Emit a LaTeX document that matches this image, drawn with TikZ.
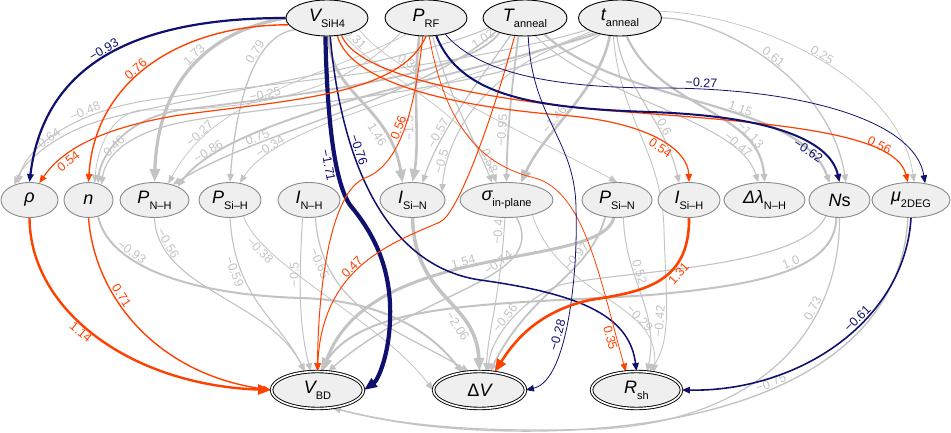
\documentclass[tikz,border=0pt]{standalone}
\usepackage{fontspec}
\setmainfont{Liberation Sans}
\usetikzlibrary{shapes.geometric,arrows.meta}
\definecolor{navyc}{HTML}{10106E}
\definecolor{orc}{HTML}{FF4100}
\definecolor{grc}{HTML}{C3C3C3}
\definecolor{nfill}{HTML}{EFEFEF}
\definecolor{nbord}{HTML}{8A8A8A}
\pgfdeclarelayer{bg}
\pgfsetlayers{bg,main}
\newcommand\mysub[1]{\raisebox{-0.32em}{\fontsize{11}{11}\selectfont #1}}
\newcommand\nodefont{\fontsize{18}{18}\selectfont}
\newcommand\labfont{\fontsize{12.5}{13}\selectfont}
\tikzset{
 topn/.style={ellipse, draw=black, line width=0.9pt, fill=nfill, minimum width=#1, minimum height=36pt, inner sep=0pt, font=\nodefont},
 midn/.style={ellipse, draw=nbord, line width=0.9pt, fill=nfill, minimum width=#1, minimum height=35pt, inner sep=0pt, font=\nodefont},
 botn/.style={ellipse, draw=black, double=white, double distance=1.6pt, line width=0.9pt, fill=nfill, minimum width=#1, minimum height=37pt, inner sep=0pt, font=\nodefont},
 edg/.style={line width=#1, -{Triangle[length=8pt,width=6.5pt]}},
 big/.style={-{Triangle[length=13pt,width=10pt]}},
 po/.style={color=orc},
 ng/.style={color=navyc},
 gr/.style={color=grc},
 lab/.style={sloped, above, font=\labfont, inner sep=1.2pt}
}
\begin{document}
\begin{tikzpicture}[x=1pt,y=-1pt]
\useasboundingbox (0,0) rectangle (951,433);
% top row
\node[topn=82pt] (V) at (327,18) {{\itshape V}\mysub{SiH4}};
\node[topn=82pt] (P) at (426,18) {{\itshape P}\mysub{RF}};
\node[topn=84pt] (T) at (525,18) {{\itshape T}\mysub{anneal}};
\node[topn=83pt] (t) at (620,18) {{\itshape t}\mysub{anneal}};
% middle row
\node[midn=57pt] (rho) at (29.5,200) {{\itshape ρ}};
\node[midn=49pt] (n) at (88.5,200) {{\itshape n}};
\node[midn=69pt] (PNH) at (154.5,200) {{\itshape P}\mysub{N–H}};
\node[midn=62pt] (PSiH) at (230,200) {{\itshape P}\mysub{Si–H}};
\node[midn=62pt] (INH) at (309,200) {{\itshape I}\mysub{N–H}};
\node[midn=65pt] (ISiN) at (412.5,200) {{\itshape I}\mysub{Si–N}};
\node[midn=93pt] (sig) at (506.5,200) {{\itshape σ}\mysub{in-plane}};
\node[midn=70pt] (PSiN) at (617,200) {{\itshape P}\mysub{Si–N}};
\node[midn=62pt] (ISiH) at (689,200) {{\itshape I}\mysub{Si–H}};
\node[midn=81pt] (dlam) at (764.5,200) {{\itshape Δλ}\mysub{N–H}};
\node[midn=61pt] (Ns) at (839.5,200) {{\itshape N}s};
\node[midn=78pt] (mu) at (911,200) {{\itshape μ}\mysub{2DEG}};
% bottom row
\node[botn=92pt] (VBD) at (317.5,390) {{\itshape V}\mysub{BD}};
\node[botn=92pt] (DV) at (479.5,390) {Δ{\itshape V}};
\node[botn=90pt] (Rsh) at (636.5,390) {{\itshape R}\mysub{sh}};

\begin{pgfonlayer}{bg}
% ---------- gray: top -> middle
\draw[gr, edg=3.2pt, big] (V.west) .. controls (215,30) and (158,75) .. (PNH.north) node[lab,pos=0.47]{1.73};
\draw[gr, edg=1.3pt] (V.200) .. controls (255,35) and (236,100) .. (PSiH.north) node[lab,pos=0.35]{0.79};
\draw[gr, edg=2.8pt, big] (V.-85) .. controls (330,95) and (390,105) .. (ISiN.120) node[lab,below,pos=0.72]{1.46};
\draw[gr, edg=0.7pt] (V.-45) .. controls (370,70) and (470,110) .. (sig.120) node[lab,pos=0.08]{0.31};
\draw[gr, edg=0.7pt] (V.-20) .. controls (395,75) and (540,140) .. (PSiN.north) node[lab,pos=0.26]{0.36};
\draw[gr, edg=2.6pt, big] (P.-110) .. controls (412,90) and (420,140) .. (ISiN.north) node[lab,pos=0.6]{−1.5};
\draw[gr, edg=1.2pt] (T.-130) .. controls (480,80) and (440,130) .. (ISiN.60) node[lab,pos=0.7]{−0.57};
\draw[gr, edg=1pt] (t.-150) .. controls (470,70) and (445,150) .. (ISiN.15) node[lab,pos=0.8]{−0.5};
\draw[gr, edg=1.1pt] (P.-70) .. controls (450,100) and (475,140) .. (sig.130) node[lab,pos=0.85]{0.58};
\draw[gr, edg=1.8pt] (T.-110) .. controls (510,100) and (507,140) .. (sig.north) node[lab,pos=0.6]{−0.95};
\draw[gr, edg=2.6pt, big] (t.-120) .. controls (600,90) and (545,130) .. (sig.50) node[lab,pos=0.6]{−1.46};
\draw[gr, edg=1.8pt] (T.-150) .. controls (470,75) and (300,95) .. (180,110) node[lab,pos=0.1]{1.02} .. controls (120,120) and (100,160) .. (n.60);
\draw[gr, edg=1.2pt] (t.-140) .. controls (500,95) and (250,105) .. (170,125) .. controls (120,138) and (105,160) .. (n.50) node[lab,pos=0.5]{0.46};
\draw[gr, edg=0.8pt] (P.-150) .. controls (330,110) and (200,110) .. (140,110) node[lab,pos=0.5]{−0.25} .. controls (110,115) and (97,150) .. (n.70);
\draw[gr, edg=1pt] (t.-160) .. controls (450,70) and (250,85) .. (150,100) .. controls (70,112) and (25,150) .. (rho.125) node[lab,pos=0.3]{−0.48};
\draw[gr, edg=1.1pt] (T.-165) .. controls (420,60) and (200,95) .. (110,118) .. controls (60,130) and (25,160) .. (rho.135) node[lab,pos=0.45]{0.64};
\draw[gr, edg=0.7pt] (P.-140) .. controls (330,75) and (215,95) .. (PNH.50) node[lab,pos=0.8]{−0.27};
\draw[gr, edg=1.4pt] (T.-155) .. controls (420,100) and (260,130) .. (PNH.40) node[lab,pos=0.72]{0.75};
\draw[gr, edg=1.9pt] (t.-145) .. controls (450,80) and (230,115) .. (PNH.30) node[lab,pos=0.85]{−0.86};
\draw[gr, edg=0.8pt] (t.-155) .. controls (450,90) and (280,120) .. (PSiH.60) node[lab,pos=0.82]{−0.34};
\draw[gr, edg=2.2pt] (t.-70) .. controls (660,110) and (760,110) .. (dlam.north) node[lab,pos=0.75]{−1.13};
\draw[gr, edg=1pt] (T.-60) .. controls (600,100) and (740,120) .. (dlam.110) node[lab,pos=0.8]{−0.47};
\draw[gr, edg=1.1pt] (t.-100) .. controls (625,90) and (665,120) .. (ISiH.120) node[lab,pos=0.65]{−0.6};
\draw[gr, edg=2.2pt] (T.-40) .. controls (620,105) and (800,100) .. (Ns.120) node[lab,pos=0.6]{1.15};
\draw[gr, edg=1.3pt] (t.east) .. controls (720,18) and (830,80) .. (Ns.70) node[lab,pos=0.5]{0.61};
\draw[gr, edg=0.7pt] (t.10) .. controls (760,15) and (900,80) .. (mu.80) node[lab,pos=0.5]{0.25};
\draw[gr, edg=0.9pt] (t.-110) .. controls (620,120) and (662,150) .. (664,230) .. controls (666,300) and (672,340) .. (Rsh.55) node[lab,pos=0.55]{−0.42};
% ---------- gray: middle -> bottom
\draw[gr, edg=1.1pt] (PNH.south) .. controls (158,290) and (270,300) .. (VBD.125) node[lab,pos=0.15]{−0.56};
\draw[gr, edg=2pt] (n.-60) .. controls (110,270) and (200,295) .. (300,298) node[lab,pos=0.3]{−0.93} .. controls (380,300) and (430,330) .. (DV.135);
\draw[gr, edg=1.1pt] (PSiH.south) .. controls (235,300) and (280,320) .. (VBD.125) node[lab,below,pos=0.25]{−0.59};
\draw[gr, edg=0.8pt] (PSiH.-50) .. controls (260,265) and (380,320) .. (DV.west) node[lab,below,pos=0.2]{−0.38};
\draw[gr, edg=1pt] (INH.-110) .. controls (298,290) and (300,330) .. (VBD.110) node[lab,pos=0.3]{−0.5};
\draw[gr, edg=1.2pt] (INH.-70) .. controls (322,310) and (400,330) .. (DV.120) node[lab,below,pos=0.18]{−0.65};
\draw[gr, edg=3.6pt, big] (ISiN.south) .. controls (415,300) and (476,300) .. (DV.north) node[lab,below,pos=0.7]{−2.06};
\draw[gr, edg=3pt, big] (PSiN.-100) .. controls (600,270) and (370,240) .. (VBD.75) node[lab,pos=0.54]{1.54};
\draw[gr, edg=1pt] (sig.-95) .. controls (500,300) and (488,330) .. (DV.70) node[lab,pos=0.06]{−0.4};
\draw[gr, edg=1.4pt] (sig.-60) .. controls (550,280) and (420,290) .. (VBD.60) node[lab,pos=0.34]{−0.74};
\draw[gr, edg=1.8pt] (PSiN.-125) .. controls (590,275) and (530,290) .. (DV.60) node[lab,pos=0.3]{−0.97};
\draw[gr, edg=1pt] (PSiN.-70) .. controls (625,280) and (660,310) .. (Rsh.60) node[lab,pos=0.35]{0.52};
\draw[gr, edg=0.8pt] (sig.-30) .. controls (560,300) and (660,300) .. (Rsh.45) node[lab,pos=0.7]{−0.29};
\draw[gr, edg=2pt] (Ns.-100) .. controls (835,270) and (760,285) .. (650,295) node[lab,pos=0.45]{1.0} .. controls (500,305) and (360,300) .. (VBD.80);
\draw[gr, edg=1.1pt] (Ns.-130) .. controls (800,270) and (620,270) .. (560,285) .. controls (520,300) and (490,340) .. (DV.65) node[lab,pos=0.5]{−0.56};
\draw[gr, edg=1.2pt] (Ns.-90) .. controls (840,330) and (760,420) .. (600,429) node[lab,pos=0.3]{0.73} .. controls (450,434) and (380,420) .. (VBD.-50);
\draw[gr, edg=1.4pt] (mu.-100) .. controls (900,380) and (700,440) .. (480,430) node[lab,pos=0.5]{−0.75} .. controls (420,427) and (380,420) .. (VBD.-50);
% ---------- coloured
\draw[ng, edg=2.2pt] (V.west) .. controls (150,18) and (45,55) .. (rho.north) node[lab,pos=0.52]{−0.93};
\draw[po, edg=1.4pt] (V.190) .. controls (180,25) and (95,80) .. (n.north) node[lab,pos=0.55]{0.76};
\draw[ng, edg=4.2pt, big] (V.-95) .. controls (327,110) and (333,180) .. (350,205) node[lab,below,pos=0.65]{−1.71} .. controls (375,235) and (392,270) .. (390,320) .. controls (389,355) and (378,380) .. (VBD.east);
\draw[ng, edg=1.5pt] (V.-80) .. controls (340,150) and (380,265) .. (480,280) node[lab,pos=0.35]{−0.76} .. controls (590,295) and (630,320) .. (Rsh.north);
\draw[po, edg=1.2pt] (V.-60) .. controls (350,80) and (440,105) .. (560,115) .. controls (650,122) and (688,150) .. (ISiH.north) node[lab,below,pos=0.55]{0.54};
\draw[po, edg=1.2pt] (V.-50) .. controls (355,70) and (450,95) .. (600,110) .. controls (760,122) and (895,130) .. (mu.100) node[lab,pos=0.75]{0.56};
\draw[po, edg=1.2pt] (P.south) .. controls (400,95) and (290,100) .. (180,115) .. controls (100,128) and (62,150) .. (rho.60) node[lab,below,pos=0.7]{0.54};
\draw[po, edg=1pt] (P.-100) .. controls (415,110) and (400,165) .. (365,178) node[lab,pos=0.5]{0.56} .. controls (330,192) and (318,290) .. (VBD.north);
\draw[po, edg=1pt] (T.-120) .. controls (492,120) and (458,214) .. (440,222) .. controls (395,242) and (322,265) .. (VBD.north) node[lab,pos=0.55]{0.47};
\draw[po, edg=0.8pt] (P.-80) .. controls (445,125) and (480,165) .. (535,178) .. controls (585,192) and (600,280) .. (Rsh.120) node[lab,below,pos=0.87]{0.35};
\draw[ng, edg=2pt] (P.-60) .. controls (460,95) and (530,108) .. (650,112) .. controls (770,116) and (830,140) .. (Ns.north) node[lab,below,pos=0.66]{−0.62};
\draw[ng, edg=0.8pt] (P.-40) .. controls (480,75) and (560,88) .. (660,88) .. controls (800,88) and (915,120) .. (mu.50) node[lab,pos=0.1]{−0.27};
\draw[ng, edg=0.8pt] (T.-80) .. controls (532,120) and (576,140) .. (576,210) .. controls (578,260) and (570,380) .. (DV.east) node[lab,pos=0.6]{−0.28};
\draw[po, edg=2.4pt, big] (rho.south) .. controls (30,310) and (130,385) .. (VBD.west) node[lab,below,pos=0.45]{1.14};
\draw[po, edg=1.4pt] (n.south) .. controls (95,300) and (160,375) .. (VBD.west) node[lab,pos=0.35]{0.71};
\draw[po, edg=2.6pt, big] (ISiH.south) .. controls (690,285) and (640,292) .. (590,300) node[lab,below,pos=0.35]{1.31} .. controls (535,312) and (512,345) .. (DV.50);
\draw[ng, edg=1.6pt] (mu.south) .. controls (905,320) and (800,392) .. (Rsh.east) node[lab,pos=0.4]{−0.61};
\end{pgfonlayer}
\end{tikzpicture}
\end{document}
